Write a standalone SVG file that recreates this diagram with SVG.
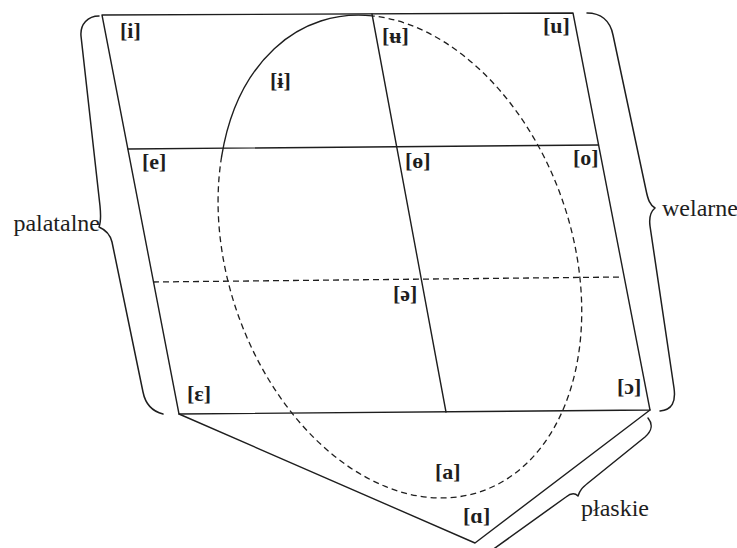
<svg xmlns="http://www.w3.org/2000/svg" width="737" height="548" viewBox="0 0 737 548">
<style>
.ln{fill:none;stroke:#1e1e1e;stroke-width:1.4;stroke-linecap:round;stroke-linejoin:round}
.ds{fill:none;stroke:#1e1e1e;stroke-width:1.3;stroke-dasharray:6 4}
.br{fill:none;stroke:#1e1e1e;stroke-width:1.5;stroke-linecap:round;stroke-linejoin:round}
.v{font-family:"Liberation Serif","DejaVu Serif",serif;font-size:22px;font-weight:bold;fill:#1e1e1e}
.t{font-family:"Liberation Serif","DejaVu Serif",serif;font-size:24px;fill:#1e1e1e}
</style>
<rect x="0" y="0" width="737" height="548" fill="#ffffff"/>
<g id="connectors">
  <g id="frame">
    <path class="ln" d="M102 15 L573 13 L650 410 L179 414 Z"/>
    <path class="ln" d="M128 149 L598 145"/>
    <path class="ln" d="M372 14 L446 412"/>
    <path class="ln" d="M179 414 L475 543 L650 410"/>
    <path class="ds" d="M153 282 L622 277"/>
  </g>
  <g id="ellipse">
    <path class="ln" d="M372.4 15.9 A172 248.5 -19.2 0 0 221.6 156.6"/>
    <path class="ds" d="M221.6 156.6 A172 248.5 -19.2 1 0 372.4 15.9"/>
  </g>
  <g id="braces">
    <path id="brace-palatalne" class="br" d="M99 16 C88 16 80 24 81 36 L100 206 C101 216 101 222 99 227 C106 230 110 234 112 242 L143 392 C145 402 151 411 163 414"/>
    <path id="brace-welarne" class="br" d="M587 13 C600 13 610 20 613 35 L646 190 C648 200 650 205 655 208 C650 212 649 218 650 226 L674 388 C676 402 672 410 660 411"/>
    <path id="brace-plaskie" class="br" d="M648 418 C653 424 652 431 645 437 L588 483 C582 488 580 490 578 496 C575 493 571 493 566 497 L488 553"/>
  </g>
</g>
<g id="node-i"><text class="v" x="120" y="38">[i]</text></g>
<g id="node-barred-i"><text class="v" x="270" y="88">[ɨ]</text></g>
<g id="node-barred-u"><text class="v" x="382" y="43">[ʉ]</text></g>
<g id="node-u"><text class="v" x="543" y="33">[u]</text></g>
<g id="node-e"><text class="v" x="142" y="169">[e]</text></g>
<g id="node-barred-o"><text class="v" x="405" y="168">[ɵ]</text></g>
<g id="node-o"><text class="v" x="573" y="165">[o]</text></g>
<g id="node-schwa"><text class="v" x="393" y="301">[ə]</text></g>
<g id="node-open-e"><text class="v" x="187" y="401">[ɛ]</text></g>
<g id="node-open-o"><text class="v" x="617" y="394">[ɔ]</text></g>
<g id="node-a"><text class="v" x="435" y="479">[a]</text></g>
<g id="node-alpha"><text class="v" x="463" y="523">[ɑ]</text></g>
<g id="label-palatalne"><text class="t" x="100" y="231" text-anchor="end">palatalne</text></g>
<g id="label-welarne"><text class="t" x="662" y="216">welarne</text></g>
<g id="label-plaskie"><text class="t" x="581" y="516">płaskie</text></g>
</svg>
